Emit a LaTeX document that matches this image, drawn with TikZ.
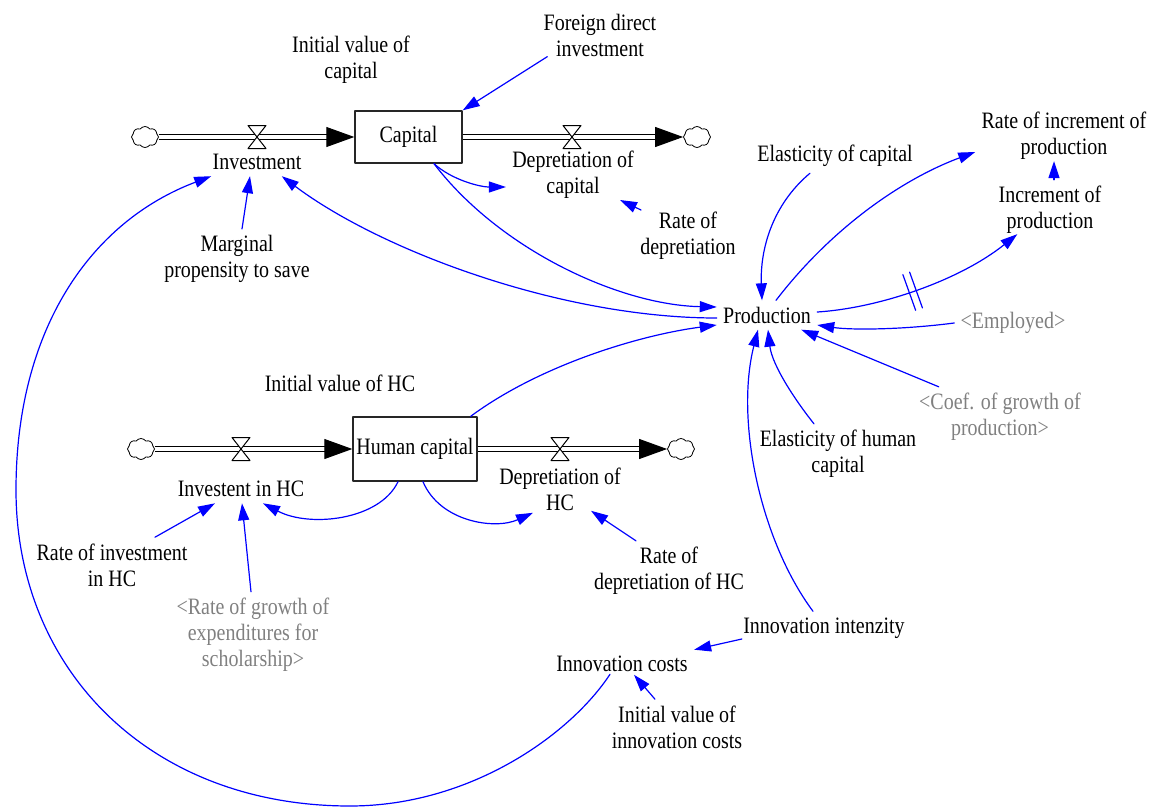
\documentclass[tikz,border=0pt]{standalone}
\usepackage{fontspec}
\setmainfont{Liberation Serif}[FakeStretch=0.85]
\usetikzlibrary{arrows.meta,shapes.symbols,decorations.markings}

\begin{document}
\begin{tikzpicture}[line cap=round, line join=round, >={Triangle[length=8.5pt,width=5.5pt]}, x=0.5pt, y=-0.5pt,
    every node/.style={font=\fontsize{11.75}{13}\selectfont},
    var/.style={align=center, inner sep=3pt},
    shadowvar/.style={var, text=gray},
    stock/.style={draw=black!85, line width=0.7pt, inner sep=0pt},
    source/.style={cloud, draw, fill=white, cloud puffs=8, cloud puff arc=110, aspect=1.3, minimum width=13.5pt, minimum height=10.5pt, inner sep=0pt, line width=0.4pt},
    pipe/.style={draw=black, line width=0.5pt, line cap=butt, double=white, double distance=2pt, -{Triangle[length=14pt,width=10pt]}},
    link/.style={->, color=blue, line width=0.6pt},
    valve/.pic={\draw[fill=white, line width=0.5pt] (-9,-11.5) -- (9,-11.5) -- (-9,11.5) -- (9,11.5) -- cycle;},
    delay/.style={postaction={decorate}, decoration={markings, mark=at position 0.45 with {\draw[-, blue, line width=0.6pt] (-1.8pt,-9.5pt) -- (-1.8pt,9.5pt) (1.8pt,-9.5pt) -- (1.8pt,9.5pt);}}}]
    \useasboundingbox (0,0) rectangle (1158,809);
    \node[source] (cloudA) at (145,137) {};
    \node[stock, minimum width=53.5pt, minimum height=26pt] (cap) at (408.5,137) {Capital};
    \node[source] (cloudB) at (697,137) {};
    \node[source] (cloudC) at (141,449) {};
    \node[stock, minimum width=62pt, minimum height=32pt] (hc) at (415,449) {Human capital};
    \node[source] (cloudD) at (681,449) {};
    \draw[pipe] (cloudA) -- (cap);
    \draw[pipe] (cap) -- (cloudB);
    \draw[pipe] (cloudC) -- (hc);
    \draw[pipe] (hc) -- (cloudD);
    \pic at (257,137) {valve};
    \pic at (572,137) {valve};
    \pic at (241,449) {valve};
    \pic at (560,449) {valve};
    \node[var] (inv) at (257,162) {Investment};
    \node[var] (depcap) at (573,175) {Depretiation of\\capital};
    \node[var] (initcap) at (351,60) {Initial value of\\capital};
    \node[var] (fdi) at (600,35) {Foreign direct\\investment};
    \node[var] (mps) at (237,259) {Marginal\\propensity to save};
    \node[var] (ratedep) at (688,236) {Rate of\\depretiation};
    \node[var] (prod) at (767,315) {Production};
    \node[var] (elcap) at (835,156) {Elasticity of capital};
    \node[var] (rinc) at (1064,136) {Rate of increment of\\production};
    \node[var] (inc) at (1050,210) {Increment of\\production};
    \node[shadowvar] (empl) at (1013,323) {<Employed>};
    \node[shadowvar] (coef) at (1000,417) {<Coef. of growth of\\production>};
    \node[var] (elhc) at (838,454) {Elasticity of human\\capital};
    \node[var] (innint) at (824,628) {Innovation intenzity};
    \node[var] (inncost) at (622,664) {Innovation costs};
    \node[var] (initinn) at (677,727) {Initial value of\\innovation costs};
    \node[var] (inithc) at (340,383) {Initial value of HC};
    \node[var] (invhc) at (241,489) {Investent in HC};
    \node[var] (dephc) at (560,489) {Depretiation of\\HC};
    \node[var] (ratedephc) at (669,571) {Rate of\\depretiation of HC};
    \node[var] (rateinvhc) at (112,565) {Rate of investment\\in HC};
    \node[shadowvar] (rgexp) at (253,635) {<Rate of growth of\\expenditures for\\scholarship>};
    \draw[link] ([xshift=5pt,yshift=3pt]fdi.south west) -- (cap.north east);
    \draw[link] ([xshift=2.5pt]mps.north) -- ([xshift=-3.5pt]inv.south);
    \draw[link] ([shift={(-47,-26)}]ratedep.center) -- ([shift={(47,25)}]depcap.center);
    \draw[link] ([xshift=12.75pt]cap.south) .. controls (452,180) and (480,187) .. ([yshift=-6pt]depcap.west);
    \draw[link] ([xshift=12.75pt]cap.south) .. controls (500,250) and (620,305) .. ([yshift=4pt]prod.west);
    \draw[link] ([yshift=-1.5pt]prod.west) .. controls (560,318) and (380,250) .. ([xshift=-13pt]inv.south east);
    \draw[link] ([xshift=-3.5pt]hc.north east) .. controls (540,365) and (640,335) .. ([yshift=-5pt]prod.west);
    \draw[link] ([xshift=-12.5pt]elcap.south) .. controls (772,205) and (760,250) .. ([xshift=-2.5pt]prod.north);
    \draw[link] ([xshift=4.5pt]prod.north) .. controls (830,230) and (900,180) .. ([yshift=-8pt]rinc.west);
    \draw[link] ([xshift=2pt]inc.north) -- ([xshift=-5pt,yshift=2.5pt]rinc.south);
    \draw[link, delay] ([yshift=1.5pt]prod.east) .. controls (880,308) and (960,280) .. ([xshift=12.5pt,yshift=3pt]inc.south west);
    \draw[link] (empl.west) .. controls (900,330) and (850,330) .. ([yshift=-5pt]prod.east);
    \draw[link] ([xshift=13pt]coef.north west) -- ([xshift=-8pt]prod.south east);
    \draw[link] ([xshift=-12pt]elhc.north) .. controls (795,400) and (772,365) .. ([xshift=0.5pt]prod.south);
    \draw[link] ([xshift=-5.5pt]innint.north) .. controls (760,540) and (735,420) .. ([xshift=-4.5pt]prod.south);
    \draw[link] ([xshift=2.5pt,yshift=-5.5pt]innint.west) -- (inncost.north east);
    \draw[link] ([xshift=-11pt]initinn.north) -- ([xshift=6pt,yshift=1.75pt]inncost.south);
    \draw[link] ([xshift=-6pt,yshift=2pt]inncost.south) .. controls (570,735) and (470,806) .. (350,806) .. controls (150,806) and (16,670) .. (16,490) .. controls (16,330) and (90,222) .. ([xshift=2.5pt]inv.south west);
    \draw[link] ([xshift=-8.5pt]hc.south) .. controls (380,520) and (310,528) .. ([xshift=11pt]invhc.south);
    \draw[link] ([xshift=4pt]hc.south) .. controls (440,522) and (495,530) .. ([xshift=-13.5pt,yshift=2pt]dephc.south);
    \draw[link] ([xshift=-16.5pt]ratedephc.north) -- ([xshift=15.5pt,yshift=3pt]dephc.south);
    \draw[link] ([xshift=21.5pt]rateinvhc.north) -- ([xshift=-13pt]invhc.south);
    \draw[link] ([xshift=-1pt]rgexp.north) -- ([xshift=0.5pt]invhc.south);
\end{tikzpicture}
\end{document}
